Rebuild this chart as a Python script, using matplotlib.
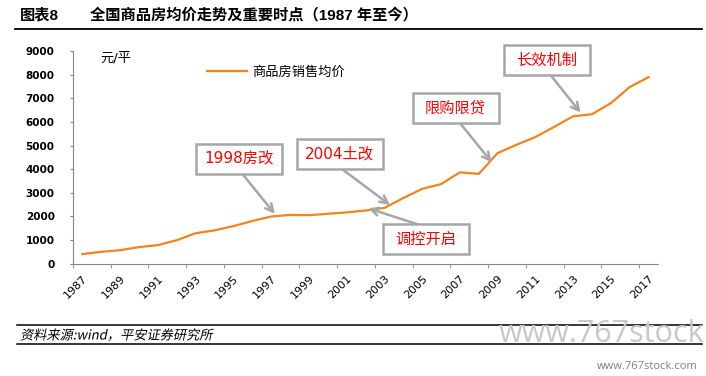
import numpy as np
import matplotlib.pyplot as plt
import matplotlib.transforms as mtransforms
from matplotlib.patches import Rectangle, PathPatch
from matplotlib.textpath import TextPath
from matplotlib.font_manager import FontProperties

plt.rcParams['font.family'] = ['DejaVu Sans', 'Noto Sans CJK SC']

# =========================
# DATA
# =========================
years = list(range(1987, 2018))
prices = [408, 503, 573, 703, 786, 995, 1291, 1409, 1591, 1806,
          1997, 2063, 2053, 2112, 2170, 2250, 2359, 2778, 3168, 3367,
          3864, 3800, 4681, 5032, 5357, 5791, 6237, 6324, 6793, 7476,
          7892]

# annotation text, box centre, arrow tail and arrow head (category index, value)
notes = ["1998房改", "2004土改", "调控开启", "限购限贷", "长效机制"]
note_box = [(8.28, 4443), (13.63, 4651), (18.22, 1037), (19.77, 6576), (24.60, 8620)]
note_tail = [(8.52, 3754), (13.82, 3965), (18.15, 1566), (20.06, 5899), (24.83, 7956)]
note_head = [(10.20, 2103), (16.30, 2484), (15.15, 2344), (21.69, 4291), (26.40, 6390)]

W, H = 706, 376
orange = '#F5821F'
grey = '#A6A6A6'
axis_grey = '#868686'

fig = plt.figure(figsize=(W / 100, H / 100), dpi=100)
ax = fig.add_axes([73 / W, 112.3 / H, 585 / W, 212.7 / H])

x = np.arange(len(years))
ax.plot(x, prices, color=orange, lw=1.6, zorder=2, label="商品房销售均价")

ax.set_xlim(-0.5, len(years) - 0.5)
ax.set_ylim(0, 9000)

# y axis
ax.set_yticks(range(0, 9001, 1000))
ax.tick_params(axis='y', length=2.2, pad=11, color=axis_grey, labelsize=7.5)
for t in ax.get_yticklabels():
    t.set_fontweight('bold')

# x axis: labels every other year, tick marks between categories
ax.set_xticks(x[::2])
ax.set_xticklabels([str(y) for y in years[::2]], rotation=45, ha='right',
                   va='top', rotation_mode='anchor', fontsize=8)
ax.set_xticks(np.arange(-0.5, len(years), 2), minor=True)
ax.tick_params(axis='x', which='major', length=0, pad=7)
ax.tick_params(axis='x', which='minor', length=3, color=axis_grey)

for side in ['top', 'right']:
    ax.spines[side].set_visible(False)
for side in ['left', 'bottom']:
    ax.spines[side].set_color(axis_grey)

# legend and unit
ax.legend(loc='upper left', bbox_to_anchor=(207 / W, 1 - 66 / H),
          bbox_transform=fig.transFigure, frameon=False, borderpad=0,
          borderaxespad=0, handlelength=3.0, handletextpad=0.4,
          prop={'family': ['Noto Sans CJK SC'], 'size': 9.5})
fig.text(100 / W, 1 - 58 / H, "元/平", fontsize=9.5, va='center',
         family=['DejaVu Sans', 'Noto Sans CJK SC'])

# =========================
# ANNOTATIONS
# =========================
box_w = 86 / 18.87
box_h = 30 / 23.63 * 1000
for text, (bx, by), tail, head in zip(notes, note_box, note_tail, note_head):
    ax.annotate('', xy=head, xytext=tail,
                arrowprops=dict(arrowstyle='->', color=grey, lw=1.8,
                                mutation_scale=14, shrinkA=0, shrinkB=0),
                zorder=3, annotation_clip=False)
    ax.add_patch(Rectangle((bx - box_w / 2, by - box_h / 2), box_w, box_h,
                           facecolor='white', edgecolor=grey, lw=1.8,
                           zorder=4, clip_on=False))
    ax.text(bx, by, text, color='#FF0000', fontsize=11, ha='center',
            va='center', zorder=5, clip_on=False)

# =========================
# TITLE AND FOOTER
# =========================
title_font = ['Liberation Sans', 'Noto Sans CJK SC']
fig.text(20 / W, 1 - 15 / H, "图表8", fontsize=11, fontweight='bold',
         family=title_font, va='center')
fig.text(90 / W, 1 - 15 / H, "全国商品房均价走势及重要时点（1987 年至今）",
         fontsize=11, fontweight='bold', family=title_font, va='center')
fig.add_artist(plt.Line2D([15 / W, 702 / W], [1 - 29 / H, 1 - 29 / H],
                          color='black', lw=1.3, transform=fig.transFigure))

for yy in [325, 344]:
    fig.add_artist(plt.Line2D([17 / W, 702 / W], [1 - yy / H, 1 - yy / H],
                              color='black', lw=1.1, transform=fig.transFigure))

# italic source line (skewed text path)
src = TextPath((0, 0), "资料来源:wind，平安证券研究所",
               prop=FontProperties(family=['Noto Sans CJK SC'], size=9.5))
src_tr = mtransforms.Affine2D().scale(100 / 72).skew_deg(12, 0).translate(20, H - 339.5)
fig.add_artist(PathPatch(src, transform=src_tr, facecolor='black', lw=0))

# watermarks
fig.text(704 / W, 1 - 342 / H, "www.767stock", fontsize=22, color='#C8C8C8',
         ha='right', va='baseline', family='Open Sans')
fig.text(698 / W, 1 - 369 / H, "www.767stock.com", fontsize=8, color='#7F7F7F',
         ha='right', va='baseline', family='Open Sans')

fig.savefig("out.png", dpi=100)
